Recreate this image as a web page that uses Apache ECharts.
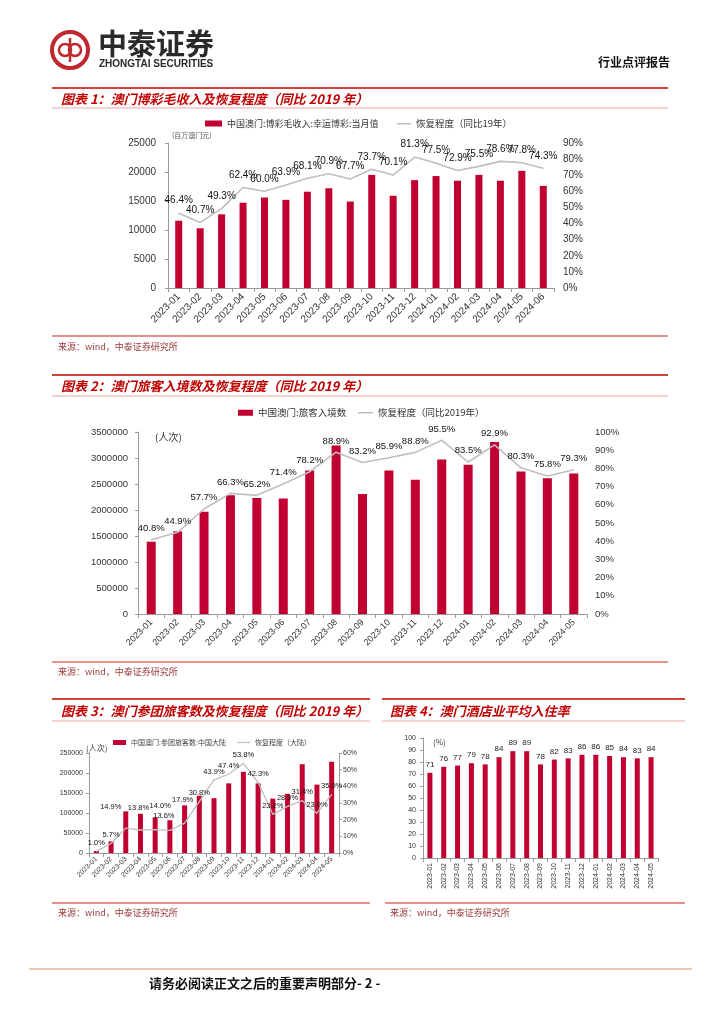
<!DOCTYPE html>
<html><head><meta charset="utf-8">
<script src="https://cdn.jsdelivr.net/npm/echarts@6/dist/echarts.min.js"></script>
<style>html,body{margin:0;padding:0;background:#fff}#c{width:724px;height:1024px}</style>
</head><body><div id="c"></div>
<script>
// ---------- data ----------
const months1 = ['2023-01','2023-02','2023-03','2023-04','2023-05','2023-06','2023-07','2023-08','2023-09','2023-10','2023-11','2023-12','2024-01','2024-02','2024-03','2024-04','2024-05','2024-06'];
const ggr = [11600,10300,12700,14700,15600,15200,16600,17200,14900,19500,15900,18600,19300,18500,19500,18500,20200,17600];
const ggrRecovery = [46.4,40.7,49.3,62.4,60.0,63.9,68.1,70.9,67.7,73.7,70.1,81.3,77.5,72.9,75.5,78.6,77.8,74.3];

const months2 = ['2023-01','2023-02','2023-03','2023-04','2023-05','2023-06','2023-07','2023-08','2023-09','2023-10','2023-11','2023-12','2024-01','2024-02','2024-03','2024-04','2024-05'];
const arrivals = [1390000,1590000,1965000,2285000,2230000,2220000,2760000,3240000,2310000,2760000,2580000,2970000,2870000,3310000,2740000,2610000,2700000];
const arrivalsRecovery = [40.8,44.9,57.7,66.3,65.2,71.4,78.2,88.9,83.2,85.9,88.8,95.5,83.5,92.9,80.3,75.8,79.3];

const tourGroup = [5000,29000,104000,98000,89000,82000,119000,143000,137000,174000,203000,174000,136000,148000,222000,171000,228000];
const tourRecovery = [1.0,5.7,14.9,13.8,14.0,13.6,17.9,30.8,43.9,47.4,53.8,42.3,23.2,28.0,31.4,23.9,35.0];

const hotelOcc = [71,76,77,79,78,84,89,89,78,82,83,86,86,85,84,83,84];

const name1Bar = '中国澳门:博彩毛收入:幸运博彩:当月值';
const name1Line = '恢复程度（同比19年）';
const name2Bar = '中国澳门:旅客入境数';
const name2Line = '恢复程度（同比2019年）';
const name3Bar = '中国澳门:参团旅客数:中国大陆';
const name3Line = '恢复程度（大陆）';
const name4Bar = '澳门酒店业平均入住率';

// ---------- style ----------
const FF = "'Liberation Sans','Noto Sans CJK SC',sans-serif";
const CJK = "'Noto Sans CJK SC',sans-serif";
const RED = '#C00030';
const GRAY = '#BFBFBF';
const AX = '#9a9a9a';
const TITLE_RED = '#C00000';
// label offsets (styling only) for crowded labels in chart 3, keyed by index
const tourLabelOffsets = {2:[-15,-13], 3:[-2,-14], 4:[5,-15], 5:[-6,-6], 6:[-2,-15]};

function xAx(gi, data, fs, rot, margin) {
  return {type:'category', gridIndex:gi, data:data,
    axisLine:{lineStyle:{color:AX}}, axisTick:{show:true, length:4, lineStyle:{color:AX}},
    axisLabel:{rotate:rot, fontSize:fs, color:'#333', margin:margin, interval:0, fontFamily:FF}};
}
function yAx(gi, min, max, itv, fs, margin, showLine, pct, pos) {
  return {type:'value', gridIndex:gi, min:min, max:max, interval:itv, position:pos||'left',
    splitLine:{show:false},
    axisLine:{show:showLine, lineStyle:{color:AX}},
    axisTick:{show:showLine, length:3, lineStyle:{color:AX}},
    axisLabel:{fontSize:fs, color:'#333', margin:margin, fontFamily:FF,
      formatter: pct ? (v=>v+'%') : (v=>String(v))}};
}
function pctLabel(fs, dist){ return {show:true, position:'top', distance:dist, fontSize:fs, color:'#111', fontFamily:FF,
  formatter:p=>p.value.toFixed(1)+'%'}; }

function txt(x,y,t,font,fill,align){ return {type:'text', x:x, y:y, silent:true,
  style:{text:t, font:font, fill:fill||'#333', align:align||'left', verticalAlign:'middle'}}; }
function ln(x1,y1,x2,y2,c,w){ return {type:'line', silent:true, shape:{x1:x1,y1:y1,x2:x2,y2:y2}, style:{stroke:c, lineWidth:w}}; }

const titleFont = "italic bold 13px " + CJK;
const srcFont = "9px " + CJK;
const SRC = '来源：wind，中泰证券研究所';
const SRC_C = '#9b3a3a';

const graphic = [
  // logo
  {type:'circle', shape:{cx:70, cy:50, r:18}, style:{fill:'none', stroke:'#c0282d', lineWidth:4}},
  {type:'circle', shape:{cx:65, cy:50, r:6}, style:{fill:'none', stroke:'#c0282d', lineWidth:2.5}},
  {type:'circle', shape:{cx:75, cy:50, r:6}, style:{fill:'none', stroke:'#c0282d', lineWidth:2.5}},
  ln(70,38,70,62,'#c0282d',2.5),
  txt(98,44,'中泰证券',"bold 29px "+CJK,'#2a2a2a'),
  txt(99,64,'ZHONGTAI SECURITIES',"bold 10px 'Liberation Sans',sans-serif",'#2a2a2a'),
  txt(670,62,'行业点评报告',"bold 12px "+CJK,'#111','right'),
  // chart 1 frame
  ln(52,88,668,88,'#d2403a',2), txt(61,99,'图表 1：澳门博彩毛收入及恢复程度（同比 2019 年）',titleFont,TITLE_RED),
  ln(52,108,668,108,'#e9a7a5',1),
  ln(52,336,668,336,'#e06a66',1.5), txt(58,347,SRC,srcFont,SRC_C),
  txt(172,135,'(百万澳门元)',"7px "+CJK,'#555'),
  // chart 2 frame
  ln(52,375,668,375,'#d2403a',2), txt(61,386,'图表 2：澳门旅客入境数及恢复程度（同比 2019 年）',titleFont,TITLE_RED),
  ln(52,396,668,396,'#e9a7a5',1),
  ln(52,662,668,662,'#e06a66',1.5), txt(58,672,SRC,srcFont,SRC_C),
  txt(155,437,'(人次)',"10px "+CJK,'#333'),
  // chart 3 frame
  ln(52,699,370,699,'#d2403a',2), txt(61,711,'图表 3：澳门参团旅客数及恢复程度（同比 2019 年）',titleFont,TITLE_RED),
  ln(52,721,370,721,'#e9a7a5',1),
  ln(52,903,370,903,'#e06a66',1.5), txt(58,913,SRC,srcFont,SRC_C),
  txt(86,748,'(人次)',"8px "+CJK,'#444'),
  // chart 4 frame
  ln(382,699,685,699,'#d2403a',2), txt(390,711,'图表 4：澳门酒店业平均入住率',titleFont,TITLE_RED),
  ln(382,721,685,721,'#e9a7a5',1),
  ln(385,903,685,903,'#e06a66',1.5), txt(390,913,SRC,srcFont,SRC_C),
  txt(433,742,'(%)',"8px "+CJK,'#444'),
  // footer
  ln(29,969,692,969,'#e6c9b4',2),
  txt(149,983,'请务必阅读正文之后的重要声明部分- 2 -',"bold 13px "+CJK,'#111')
];

const tourLineData = tourRecovery.map((v,i)=> tourLabelOffsets[i]
  ? {value:v, label:{offset:tourLabelOffsets[i]}} : v);

const option = {
  animation:false,
  textStyle:{fontFamily:FF},
  graphic:graphic,
  legend:[
    {data:[{name:name1Bar, icon:'rect'}], left:205, top:119, padding:0, itemWidth:17, itemHeight:6, itemGap:4, textStyle:{fontSize:9, color:'#333', fontFamily:CJK}},
    {data:[{name:name1Line, icon:'rect'}], left:397, top:119, padding:0, itemWidth:14, itemHeight:1.5, textStyle:{fontSize:9.5, color:'#333', fontFamily:CJK}},
    {data:[{name:name2Bar, icon:'rect'}], left:238, top:408, padding:0, itemWidth:15, itemHeight:6, textStyle:{fontSize:9.5, color:'#333', fontFamily:CJK}},
    {data:[{name:name2Line, icon:'rect'}], left:358, top:408, padding:0, itemWidth:15, itemHeight:1.5, textStyle:{fontSize:9.5, color:'#333', fontFamily:CJK}},
    {data:[{name:name3Bar, icon:'rect'}], left:113, top:739, padding:0, itemWidth:13, itemHeight:5, itemGap:3, textStyle:{fontSize:7, color:'#444', fontFamily:CJK}},
    {data:[{name:name3Line, icon:'rect'}], left:237, top:739, padding:0, itemWidth:13, itemHeight:1.2, itemGap:3, textStyle:{fontSize:7, color:'#444', fontFamily:CJK}}
  ],
  grid:[
    {left:168, top:143, width:386, height:145},
    {left:138, top:432, width:449, height:182},
    {left:89, top:753, width:250, height:100},
    {left:423, top:738, width:235, height:120}
  ],
  xAxis:[
    xAx(0, months1, 10, 45, 7),
    xAx(1, months2, 9, 45, 7),
    xAx(2, months2, 7, 45, 5),
    xAx(3, months2, 7, 90, 5)
  ],
  yAxis:[
    yAx(0, 0, 25000, 5000, 10, 12, true, false),
    yAx(0, 0, 90, 10, 10, 9, false, true, 'right'),
    yAx(1, 0, 3500000, 500000, 9.5, 10, true, false),
    yAx(1, 0, 100, 10, 9.5, 8, false, true, 'right'),
    yAx(2, 0, 250000, 50000, 7, 6, true, false),
    yAx(2, 0, 60, 10, 7, 4, true, true, 'right'),
    yAx(3, 0, 100, 10, 7, 7, true, false)
  ],
  series:[
    {name:name1Bar, type:'bar', xAxisIndex:0, yAxisIndex:0, data:ggr, barWidth:7, itemStyle:{color:RED}},
    {name:name1Line, type:'line', xAxisIndex:0, yAxisIndex:1, data:ggrRecovery, symbol:'circle', symbolSize:1,
      itemStyle:{color:GRAY}, lineStyle:{color:GRAY, width:1.6}, label:pctLabel(10, 7), z:5},
    {name:name2Bar, type:'bar', xAxisIndex:1, yAxisIndex:2, data:arrivals, barWidth:9, itemStyle:{color:RED}},
    {name:name2Line, type:'line', xAxisIndex:1, yAxisIndex:3, data:arrivalsRecovery, symbol:'circle', symbolSize:1,
      itemStyle:{color:GRAY}, lineStyle:{color:GRAY, width:1.6}, label:pctLabel(9.5, 6), z:5},
    {name:name3Bar, type:'bar', xAxisIndex:2, yAxisIndex:4, data:tourGroup, barWidth:5, itemStyle:{color:RED}},
    {name:name3Line, type:'line', xAxisIndex:2, yAxisIndex:5, data:tourLineData, symbol:'circle', symbolSize:1,
      itemStyle:{color:GRAY}, lineStyle:{color:GRAY, width:1.3}, label:pctLabel(7.5, 4), z:5},
    {name:name4Bar, type:'bar', xAxisIndex:3, yAxisIndex:6, data:hotelOcc, barWidth:5, itemStyle:{color:RED},
      label:{show:true, position:'top', distance:4, fontSize:8, color:'#222', fontFamily:FF}}
  ]
};
const chart = echarts.init(document.getElementById('c'), null, {renderer:'canvas'});
chart.setOption(option);
</script></body></html>
